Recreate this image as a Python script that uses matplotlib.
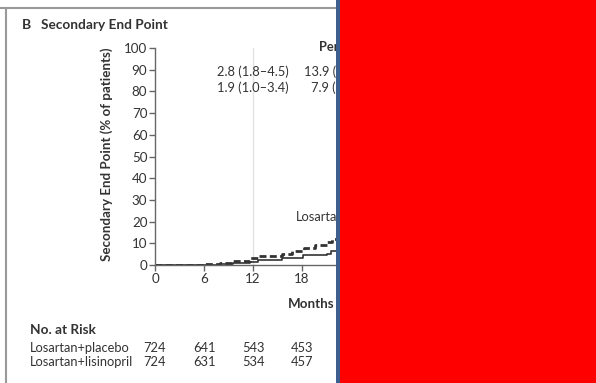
import matplotlib
matplotlib.use("Agg")
import matplotlib.pyplot as plt
from matplotlib.patches import Rectangle
from matplotlib.lines import Line2D

plt.rcParams['font.family'] = ['Lato', 'DejaVu Sans']

# step curves (months, % with event)
months_placebo = [0, 6, 8, 9.5, 11.6, 12.6, 15.5, 16.8, 18.2, 19.6, 21.0, 21.7, 26]
pct_placebo = [0, 0.4, 0.9, 1.8, 3.1, 4.1, 5.0, 6.5, 8.0, 9.0, 10.5, 12.0, 13.9]
months_lisinopril = [0, 8, 9.5, 11.6, 12.6, 15.5, 18.1, 21.0, 21.6, 26]
pct_lisinopril = [0, 0.3, 0.7, 1.5, 2.2, 3.0, 4.5, 5.0, 6.3, 7.9]

risk_months = [0, 6, 12, 18]
risk_placebo = [724, 641, 543, 453]
risk_lisinopril = [724, 631, 534, 457]

ci_12 = ["2.8 (1.8\u20134.5)", "1.9 (1.0\u20133.4)"]
ci_24 = ["13.9 (10.9\u201317.6)", "7.9 (5.8\u201310.6)"]

W, H = 596, 383
fig = plt.figure(figsize=(W / 100, H / 100), dpi=100)
fig.patch.set_facecolor('white')

txt = '#333333'
fs = 9.3
ax = fig.add_axes([155 / W, (H - 265) / H, 392 / W, 217 / H])
ax.set_xlim(0, 48)
ax.set_ylim(0, 100)
for s in ['top', 'right']:
    ax.spines[s].set_visible(False)
for s in ['left', 'bottom']:
    ax.spines[s].set_color('#666666')
    ax.spines[s].set_linewidth(1.0)
ax.set_yticks(range(0, 101, 10))
ax.set_xticks(range(0, 49, 6))
ax.tick_params(direction='out', length=4, width=1, color='#666666',
               labelsize=9.6, labelcolor=txt, pad=1.5)
ax.axvline(12, color='#e2e2e2', lw=1, zorder=0)

ax.step(months_placebo, pct_placebo, where='post', color='#333333', lw=2.0,
        ls=(0, (2.5, 1.2)))
ax.step(months_lisinopril, pct_lisinopril, where='post', color='#333333', lw=1.2)

ax.text(12, 89, ci_12[0], ha='center', va='center', fontsize=fs, color=txt)
ax.text(12, 81.5, ci_12[1], ha='center', va='center', fontsize=fs, color=txt)
ax.text(24, 89, ci_24[0], ha='center', va='center', fontsize=fs, color=txt)
ax.text(24, 81.5, ci_24[1], ha='center', va='center', fontsize=fs, color=txt)
ax.text(20.1, 100.5, 'Percent with Event (95% CI)', ha='left', va='center',
        fontsize=fs, fontweight='bold', color=txt)
ax.text(17.3, 22, 'Losartan+placebo', ha='left', va='center', fontsize=fs, color=txt)

# titles and labels
fig.text(22 / W, 1 - 25 / H, 'B', fontsize=10, fontweight='bold', color=txt,
         ha='left', va='center')
fig.text(41 / W, 1 - 25 / H, 'Secondary End Point', fontsize=9.8, fontweight='bold',
         color=txt, ha='left', va='center')
fig.text(107 / W, 1 - 154 / H, 'Secondary End Point (% of patients)', fontsize=9.6,
         fontweight='bold', color=txt, rotation=90, ha='center', va='center')
fig.text(311 / W, 1 - 304 / H, 'Months', fontsize=9.6, fontweight='bold', color=txt,
         ha='center', va='center')

# number at risk
fig.text(30 / W, 1 - 330 / H, 'No. at Risk', fontsize=9.8, fontweight='bold',
         color=txt, ha='left', va='center')
fig.text(30 / W, 1 - 348 / H, 'Losartan+placebo', fontsize=fs, color=txt,
         ha='left', va='center')
fig.text(30 / W, 1 - 362 / H, 'Losartan+lisinopril', fontsize=fs, color=txt,
         ha='left', va='center')
trans = ax.get_xaxis_transform()
for m, a, b in zip(risk_months, risk_placebo, risk_lisinopril):
    x_fig = fig.transFigure.inverted().transform(trans.transform((m, 0)))[0]
    fig.text(x_fig, 1 - 348 / H, str(a), fontsize=fs, color=txt, ha='center', va='center')
    fig.text(x_fig, 1 - 362 / H, str(b), fontsize=fs, color=txt, ha='center', va='center')

# panel frame
fig.add_artist(Line2D([0, 1], [1 - 8 / H, 1 - 8 / H], transform=fig.transFigure,
                      color='#999999', lw=1.5))
fig.add_artist(Line2D([5.5 / W, 5.5 / W], [0, 1 - 9 / H], transform=fig.transFigure,
                      color='#999999', lw=1.5))

# cover block
fig.add_artist(Rectangle((336 / W, 0), 5 / W, 1, transform=fig.transFigure,
                         facecolor='#3d5f8f', edgecolor='none', zorder=20))
fig.add_artist(Rectangle((340 / W, 0), 1, 1, transform=fig.transFigure,
                         facecolor='#ff0000', edgecolor='none', zorder=21))

fig.savefig('out.png', dpi=100)
